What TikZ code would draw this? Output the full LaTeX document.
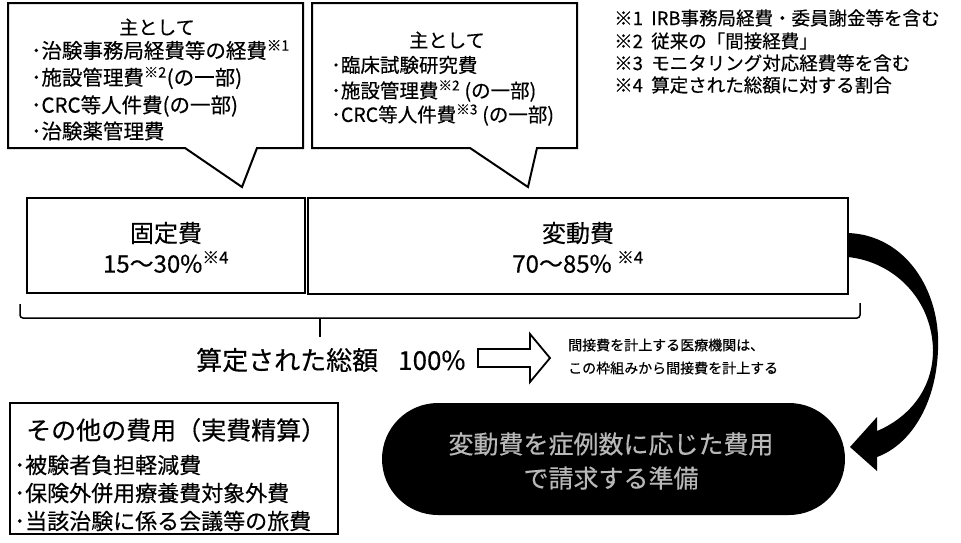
\documentclass[tikz,border=0pt]{standalone}
\usepackage{fontspec}
\setmainfont{Noto Sans CJK JP}[FakeBold=0.4]
\newcommand\kome[1]{\textsuperscript{※#1}}
\begin{document}
\begin{tikzpicture}[x=1pt,y=-1pt,line join=miter]
\tikzset{
  fsz/.style={font=\fontsize{#1}{#1}\selectfont},
  lt/.style={inner sep=0pt,anchor=west},
  ct/.style={inner sep=0pt},
  callout/.style={draw=black,line width=2pt,fill=white},
  costbox/.style={draw=black,line width=2.2pt,fill=white},
}
\useasboundingbox (0,0) rectangle (961,542);
\fill[white] (0,0) rectangle (961,542);

% callout 1
\draw[callout] (8,3) -- (303,3) -- (303,148) -- (257,148) -- (242,187) -- (185,148) -- (8,148) -- cycle;
\node[ct,fsz=19] (c1t) at (157,27) {主として};
\node[lt,fsz=20.5] (c1a) at (31,50) {･治験事務局経費等の経費\kome{1}};
\node[lt,fsz=20.5] (c1b) at (31,78) {･施設管理費\kome{2}(の一部)};
\node[lt,fsz=20.5] (c1c) at (31,106) {･CRC等人件費(の一部)};
\node[lt,fsz=20.5] (c1d) at (31,131) {･治験薬管理費};

% callout 2
\draw[callout] (312,3) -- (577,3) -- (577,148) -- (537,148) -- (528,187) -- (470,148) -- (312,148) -- cycle;
\node[ct,fsz=19] (c2t) at (447,40) {主として};
\node[lt,fsz=19.5] (c2a) at (331,65) {･臨床試験研究費};
\node[lt,fsz=19.5] (c2b) at (331,91) {･施設管理費\kome{2} (の一部)};
\node[lt,fsz=19.5] (c2c) at (331,115) {･CRC等人件費\kome{3} (の一部)};

% notes
\node[lt,fsz=18.5] (n1) at (614,18) {※1\ \ IRB事務局経費・委員謝金等を含む};
\node[lt,fsz=18.5] (n2) at (614,41) {※2\ \ 従来の「間接経費」};
\node[lt,fsz=18.5] (n3) at (614,63) {※3\ \ モニタリング対応経費等を含む};
\node[lt,fsz=18.5] (n4) at (614,85) {※4\ \ 算定された総額に対する割合};

% cost boxes
\draw[costbox] (27,198) rectangle (305,293);
\node[ct,fsz=24] (fix) at (166,233) {固定費};
\node[ct,fsz=24] (fixp) at (166,262) {15～30\%\kome{4}};
\draw[costbox] (308,198) rectangle (848,294);
\node[ct,fsz=24] (var) at (578,233) {変動費};
\node[ct,fsz=24] (varp) at (578,262) {70～85\% \kome{4}};
\coordinate (varE) at (848,245);

% brace
\draw[line width=1.5pt,rounded corners=3pt] (20,304) -- (20,318) -- (860,318) -- (860,303);
\draw[line width=1.5pt] (320,318) -- (320,337);

% total
\node[lt,fsz=26] (total) at (196,360) {算定された総額\hspace{20pt}100\%};

% hollow arrow
\draw[line width=1.8pt,fill=white] (478,349) -- (530,349) -- (530,334) -- (550,358) -- (530,382) -- (530,367) -- (478,367) -- cycle;
\node[lt,fsz=14] (ind1) at (568,345) {間接費を計上する医療機関は、};
\node[lt,fsz=14] (ind2) at (568,368) {この枠組みから間接費を計上する};

% other costs box
\draw[line width=2pt] (10,403) rectangle (338,534);
\node[lt,fsz=25] (oth) at (26,430) {その他の費用（実費精算）};
\node[lt,fsz=22] (oth1) at (14,465) {･被験者負担軽減費};
\node[lt,fsz=22] (oth2) at (14,493) {･保険外併用療養費対象外費};
\node[lt,fsz=22] (oth3) at (14,521) {･当該治験に係る会議等の旅費};

% black pill
\node[fill=black,rounded corners=56pt,minimum width=463pt,minimum height=112pt,inner sep=0pt] (pill) at (613.5,459) {};
\node[ct,fsz=25,text=white!72!black] (pl1) at (611,444) {変動費を症例数に応じた費用};
\node[ct,fsz=25,text=white!72!black] (pl2) at (611,478) {で請求する準備};

% curved arrow
\fill[black] (varE) ++(0,-12)
  .. controls (905,235) and (941,290) .. (938,350)
  .. controls (936,405) and (910,445) .. (877,457)
  -- (877,471) -- (850,447) -- (877,417) -- (877,431)
  .. controls (908,418) and (933,390) .. (933,350)
  .. controls (932,300) and (895,262) .. (848,257) -- cycle;
\end{tikzpicture}
\end{document}
